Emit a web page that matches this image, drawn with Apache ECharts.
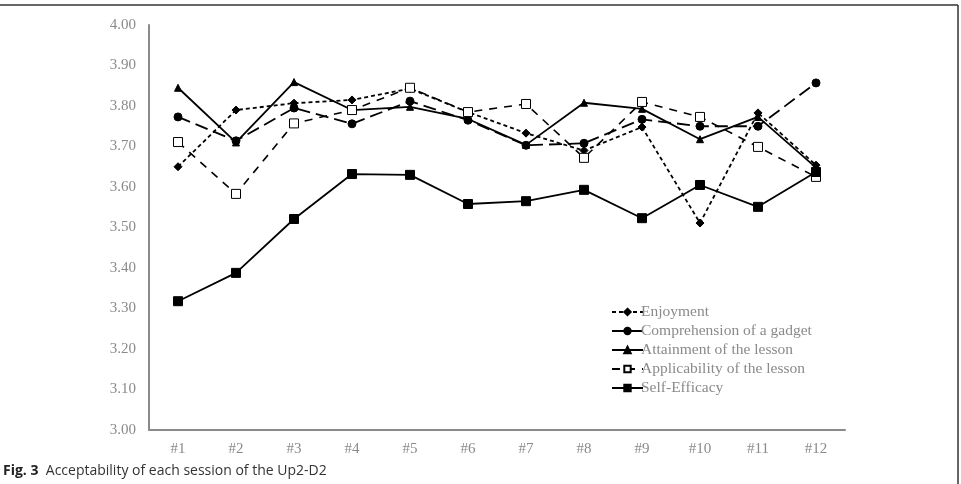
<!DOCTYPE html>
<html>
<head>
<meta charset="utf-8">
<script src="https://cdn.jsdelivr.net/npm/echarts@6/dist/echarts.min.js"></script>
<style>
  html, body { margin: 0; padding: 0; background: #fff; }
  #chart { width: 961px; height: 484px; }
</style>
</head>
<body>
<div id="chart"></div>
<script>
const sessions = ['#1', '#2', '#3', '#4', '#5', '#6', '#7', '#8', '#9', '#10', '#11', '#12'];
const enjoyment = [3.65, 3.79, 3.807, 3.815, 3.843, 3.785, 3.733, 3.69, 3.748, 3.511, 3.783, 3.654];
const comprehension = [3.773, 3.714, 3.795, 3.756, 3.812, 3.765, 3.703, 3.708, 3.767, 3.75, 3.75, 3.857];
const attainment = [3.845, 3.71, 3.859, 3.79, 3.798, 3.768, 3.704, 3.808, 3.793, 3.718, 3.773, 3.648];
const applicability = [3.711, 3.583, 3.757, 3.79, 3.845, 3.785, 3.805, 3.672, 3.81, 3.773, 3.699, 3.625];
const selfEfficacy = [3.318, 3.388, 3.521, 3.632, 3.63, 3.558, 3.565, 3.593, 3.523, 3.605, 3.551, 3.637];

const serif = '"Liberation Serif", "DejaVu Serif", serif';
const grey = '#8a8a8a';

const chart = echarts.init(document.getElementById('chart'));

function line(name, data, symbol, size, dash, width, fill) {
  return {
    name: name,
    type: 'line',
    data: data,
    symbol: symbol,
    symbolSize: size,
    showAllSymbol: true,
    lineStyle: { color: '#000', width: width, type: dash },
    itemStyle: { color: fill, borderColor: '#000', borderWidth: 1 },
    emphasis: { disabled: true },
    z: 3
  };
}

chart.setOption({
  backgroundColor: '#fff',
  animation: false,
  grid: { left: 149, right: 116, top: 25, bottom: 54 },
  legend: {
    orient: 'vertical',
    left: 606,
    top: 299,
    itemWidth: 31,
    itemHeight: 8,
    itemGap: 3,
    textStyle: { fontFamily: serif, fontSize: 15.5, color: grey, padding: [0, 0, 0, -7] },
    data: ['Enjoyment', 'Comprehension of a gadget', 'Attainment of the lesson', 'Applicability of the lesson', 'Self-Efficacy']
  },
  xAxis: {
    type: 'category',
    data: sessions,
    axisLine: { lineStyle: { color: grey, width: 2 } },
    axisTick: { show: false },
    axisLabel: { fontFamily: serif, fontSize: 15, color: grey, margin: 12 }
  },
  yAxis: {
    type: 'value',
    min: 3,
    max: 4,
    interval: 0.1,
    axisLine: { show: true, lineStyle: { color: grey, width: 2 } },
    axisTick: { show: false },
    splitLine: { show: false },
    axisLabel: {
      fontFamily: serif, fontSize: 15, color: grey, margin: 13,
      formatter: function (v) { return v.toFixed(2); }
    }
  },
  graphic: [
    { type: 'line', shape: { x1: 0, y1: 5, x2: 958, y2: 5 }, style: { stroke: '#333', lineWidth: 1.5 } },
    { type: 'line', shape: { x1: 958, y1: 5, x2: 958, y2: 484 }, style: { stroke: '#333', lineWidth: 1.5 } },
    {
      type: 'text', left: 3, top: 464,
      style: {
        text: '{b|Fig. 3}  Acceptability of each session of the Up2-D2',
        fontFamily: '"Open Sans", "Noto Sans", sans-serif', fontSize: 14, fill: '#333',
        rich: { b: { fontWeight: 'bold', fontFamily: '"Open Sans", "Noto Sans", sans-serif', fontSize: 14, fill: '#222' } }
      }
    }
  ],
  series: [
    line('Enjoyment', enjoyment, 'diamond', 8, [4, 3], 1.8, '#000'),
    line('Comprehension of a gadget', comprehension, 'circle', 8, [13, 6], 1.8, '#000'),
    line('Attainment of the lesson', attainment, 'triangle', 7, 'solid', 1.8, '#000'),
    line('Applicability of the lesson', applicability, 'rect', 9, [8, 7], 1.6, '#fff'),
    line('Self-Efficacy', selfEfficacy, 'rect', 9, 'solid', 1.8, '#000')
  ]
});
</script>
</body>
</html>
